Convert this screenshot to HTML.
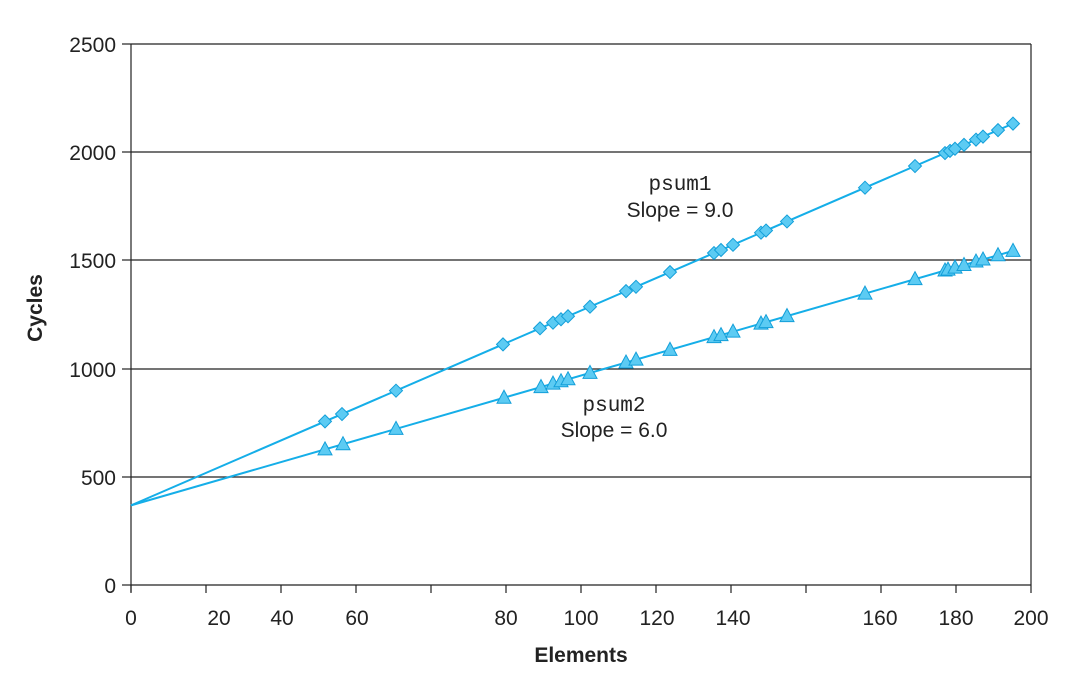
<!DOCTYPE html>
<html><head><style>body{margin:0;background:#fff}svg{display:block}</style></head><body>
<svg id="s" width="1091" height="682" xmlns="http://www.w3.org/2000/svg" font-family="Liberation Sans, sans-serif">
<g stroke="#222" stroke-width="1.2">
<line x1="131" y1="44" x2="1031" y2="44"/>
<line x1="131" y1="152" x2="1031" y2="152"/>
<line x1="131" y1="260" x2="1031" y2="260"/>
<line x1="131" y1="369" x2="1031" y2="369"/>
<line x1="131" y1="477" x2="1031" y2="477"/>
<line x1="131" y1="585" x2="1031" y2="585"/>
<line x1="131" y1="44" x2="131" y2="592"/>
<line x1="1031" y1="44" x2="1031" y2="585"/>
<g id="ticks"></g>
<line x1="122" y1="44" x2="131" y2="44"/><line x1="122" y1="152" x2="131" y2="152"/><line x1="122" y1="260" x2="131" y2="260"/><line x1="122" y1="369" x2="131" y2="369"/><line x1="122" y1="477" x2="131" y2="477"/><line x1="122" y1="585" x2="131" y2="585"/>
</g>
<g font-size="21" fill="#222" text-anchor="end">
<text x="116" y="52">2500</text><text x="116" y="160">2000</text><text x="116" y="268">1500</text><text x="116" y="377">1000</text><text x="116" y="485">500</text><text x="116" y="593">0</text>
</g>
<g font-size="21" fill="#222" text-anchor="middle">
<text x="131" y="625">0</text><text x="219" y="625">20</text><text x="282" y="625">40</text><text x="357" y="625">60</text><text x="506" y="625">80</text><text x="581" y="625">100</text><text x="657" y="625">120</text><text x="733" y="625">140</text><text x="880" y="625">160</text><text x="956" y="625">180</text><text x="1031" y="625">200</text>
</g>
<text x="581" y="662" font-size="21" font-weight="bold" text-anchor="middle" fill="#222">Elements</text>
<text transform="translate(42,308) rotate(-90)" font-size="21" font-weight="bold" text-anchor="middle" fill="#222">Cycles</text>
<g font-size="21" fill="#222" text-anchor="middle">
<text x="680" y="190" font-family="Liberation Mono, monospace">psum1</text>
<text x="680" y="217">Slope = 9.0</text>
<text x="614" y="411" font-family="Liberation Mono, monospace">psum2</text>
<text x="614" y="437">Slope = 6.0</text>
</g>
<g id="d"></g>
</svg>
<script>
var t=document.getElementById('ticks'),h='';
for(var i=0;i<=12;i++){var x=131+75*i;h+='<line x1="'+x+'" y1="585" x2="'+x+'" y2="593"/>';}
t.innerHTML=h;
function Y(c){return 585-c*541/2500;}
function c(px,s){return 368+s*(px-131)/4.5;}
var p1=[325,342,396,503,540,553,561,568,590,626,636,670,714,721,733,761,766,787,865,915,945,950,955,964,976,983,998,1013];
var p2=[325,343,396,504,541,553,561,568,590,626,636,670,714,721,733,761,766,787,865,915,945,948,955,964,976,983,998,1013];
var o='<line x1="131" y1="'+Y(368)+'" x2="1013" y2="'+Y(c(1013,9))+'" stroke="#15aee8" stroke-width="2"/>';
o+='<line x1="131" y1="'+Y(368)+'" x2="1013" y2="'+Y(c(1013,6))+'" stroke="#15aee8" stroke-width="2"/>';
p1.forEach(function(x){var y=Y(c(x,9));o+='<polygon points="'+x+','+(y-6.5)+' '+(x+6.5)+','+y+' '+x+','+(y+6.5)+' '+(x-6.5)+','+y+'" fill="#5ccbf3" stroke="#139fd9" stroke-width="1"/>';});
p2.forEach(function(x){var y=Y(c(x,6));o+='<polygon points="'+x+','+(y-7.5)+' '+(x+7)+','+(y+5.5)+' '+(x-7)+','+(y+5.5)+'" fill="#5ccbf3" stroke="#139fd9" stroke-width="1"/>';});
document.getElementById('d').innerHTML=o;
</script>
</body></html>
